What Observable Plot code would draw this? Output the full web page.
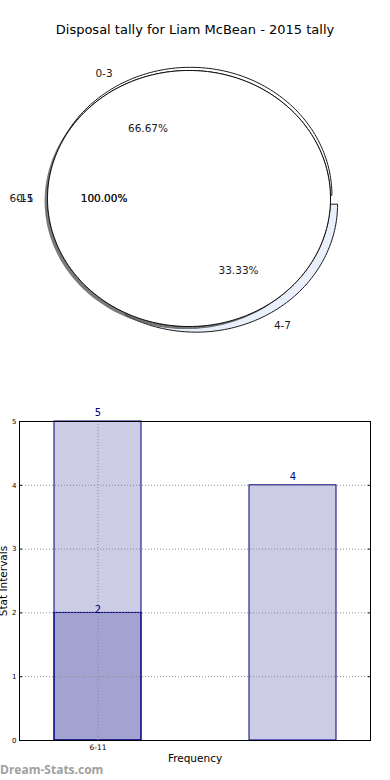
<!DOCTYPE html>
<html>
<head>
<meta charset="utf-8">
<script src="https://cdn.jsdelivr.net/npm/d3@7"></script>
<script src="https://cdn.jsdelivr.net/npm/@observablehq/plot@0.6"></script>
<style>
  html, body { margin: 0; padding: 0; background: #fff; }
  #wrap { position: relative; width: 390px; height: 780px; overflow: hidden; font-family: "DejaVu Sans", sans-serif; }
  #title { position: absolute; left: 0; width: 390px; top: 22px; text-align: center; font-size: 13px; line-height: 16px; color: #000; font-family: "DejaVu Sans", sans-serif; }
  #pie { position: absolute; left: 0; top: 0; }
  #bar { position: absolute; left: 0; top: 390px; }
  #wm { position: absolute; left: 0; top: 761px; font-size: 12px; font-weight: bold; color: #a0a0a0; font-family: "Open Sans", "DejaVu Sans", sans-serif; }
</style>
</head>
<body>
<div id="wrap">
  <div id="pie"></div>
  <div id="bar"></div>
  <div id="title">Disposal tally for Liam McBean - 2015 tally</div>
  <div id="wm">Dream-Stats.com</div>
</div>
<script>
// ---- Data ----
const chartTitle = "Disposal tally for Liam McBean - 2015 tally";

// two single-slice pies drawn on top of each other (each 100%, with shadow)
const pieFrontLabels = ["6-11", "0-5"];
const pieFrontValues = [5, 2];

// pie drawn underneath
const pieBackLabels = ["0-3", "4-7"];
const pieBackValues = [2, 1];
const pieBackExplode = [0, 0.08];

// bar chart
const barCategories = ["6-11", ""];
const barTickLabels = ["6-11"];
const barSeriesTotal = [5, 4];     // lighter bars
const barSeriesPart = [2, null];   // overlaid bar
const yTicks = [0, 1, 2, 3, 4, 5];

// ---- Pie geometry helpers ----
function wedges(labels, values, explode, cx, cy, r) {
  const total = d3.sum(values);
  let acc = 0;
  const out = [];
  labels.forEach((lab, i) => {
    const a0 = acc / total * 2 * Math.PI;
    acc += values[i];
    const a1 = acc / total * 2 * Math.PI;
    const mid = (a0 + a1) / 2;
    const e = explode ? explode[i] : 0;
    const ox = cx + e * Math.cos(mid), oy = cy + e * Math.sin(mid);
    const full = (a1 - a0) >= 2 * Math.PI - 1e-9;
    const n = Math.max(4, Math.ceil((a1 - a0) / (2 * Math.PI) * 240));
    const pts = [];
    if (!full) pts.push([ox, oy]);
    for (let k = 0; k <= n; k++) {
      const a = a0 + (a1 - a0) * k / n;
      pts.push([ox + r * Math.cos(a), oy + r * Math.sin(a)]);
    }
    if (!full) pts.push([ox, oy]);
    out.push({label: lab, pct: values[i] / total * 100, mid, ox, oy, r, pts});
  });
  return out;
}

const backCenter = [0.01, 0.025];
const backPie = wedges(pieBackLabels, pieBackValues, pieBackExplode, backCenter[0], backCenter[1], 1);
// each front label is its own single-slice pie
const frontPies = pieFrontLabels.map((lab, i) => wedges([lab], [pieFrontValues[i]], null, 0, 0, 1)[0]);
const backFills = ["#ffffff", "#e9effb"];

const polyRows = [];
backPie.forEach((w, i) => w.pts.forEach(p => polyRows.push({key: "b" + i, x: p[0], y: p[1], fill: backFills[i], op: 1})));
frontPies.forEach((w, i) => {
  w.pts.forEach(p => polyRows.push({key: "s" + i, x: p[0] - 0.02, y: p[1] - 0.02, fill: "#4d4d4d", op: 0.5}));
  w.pts.forEach(p => polyRows.push({key: "t" + i, x: p[0], y: p[1], fill: "#ffffff", op: 1}));
});
const polyKeys = ["b0", "b1", ...frontPies.flatMap((w, i) => ["s" + i, "t" + i])];

const labelRows = [];
const pctRows = [];
[...backPie, ...frontPies].forEach(w => {
  labelRows.push({text: w.label, x: w.ox + 1.1 * w.r * Math.cos(w.mid), y: w.oy + 1.1 * w.r * Math.sin(w.mid)});
  pctRows.push({text: w.pct.toFixed(2) + "%", x: w.ox + 0.6 * w.r * Math.cos(w.mid), y: w.oy + 0.6 * w.r * Math.sin(w.mid)});
});

const font = "DejaVu Sans";
const pieChart = Plot.plot({
  width: 390, height: 390,
  marginTop: 0, marginBottom: 0, marginLeft: 0, marginRight: 0,
  x: {domain: [-1, 1], range: [47, 330], axis: null},
  y: {domain: [-1, 1], range: [326, 70], axis: null},
  style: {fontFamily: font, background: "transparent"},
  marks: [
    ...polyKeys.map(k => {
      const rows = polyRows.filter(r => r.key === k);
      const isShadow = k[0] === "s";
      return Plot.line(rows, {x: "x", y: "y", fill: rows[0].fill, fillOpacity: rows[0].op,
        stroke: isShadow ? "none" : "#000", strokeWidth: isShadow ? 0 : 0.9, strokeLinejoin: "round"});
    }),
    Plot.text(labelRows.filter(d => d.x < 0), {x: "x", y: "y", text: "text", textAnchor: "end", fontSize: 10.5, fill: "#1a1a1a"}),
    Plot.text(labelRows.filter(d => d.x >= 0), {x: "x", y: "y", text: "text", textAnchor: "start", fontSize: 10.5, fill: "#1a1a1a"}),
    Plot.text(pctRows, {x: "x", y: "y", text: "text", textAnchor: "middle", fontSize: 10.5, fill: "#1a1a1a"})
  ]
});
document.getElementById("pie").appendChild(pieChart);

// ---- Bar chart ----
const totalRows = barCategories.map((c, i) => ({cat: c, v: barSeriesTotal[i]})).filter(d => d.v != null);
const partRows = barCategories.map((c, i) => ({cat: c, v: barSeriesPart[i]})).filter(d => d.v != null);
const navy = "#000080";

const barChart = Plot.plot({
  width: 390, height: 390,
  marginTop: 31, marginBottom: 40, marginLeft: 19, marginRight: 20,
  x: {type: "band", domain: barCategories, paddingInner: 0.554, paddingOuter: 0.177, align: 0.5},
  y: {domain: [0, 5]},
  style: {fontFamily: font, background: "transparent"},
  marks: [
    Plot.barY(totalRows, {x: "cat", y1: 0, y2: "v", fill: navy, fillOpacity: 0.2, stroke: navy, strokeWidth: 1}),
    Plot.barY(partRows, {x: "cat", y1: 0, y2: "v", fill: navy, fillOpacity: 0.2, stroke: navy, strokeWidth: 1}),
    Plot.gridY(yTicks, {stroke: "#8c8c8c", strokeOpacity: 1, strokeDasharray: "1,2", strokeWidth: 1}),
    Plot.gridX(barTickLabels, {stroke: "#8c8c8c", strokeOpacity: 1, strokeDasharray: "1,2", strokeWidth: 1}),
    Plot.frame({stroke: "#000", strokeWidth: 1}),
    Plot.axisY(yTicks, {anchor: "left", tickSize: -3, tickPadding: 6, fontSize: 7, tickFormat: d => String(d), label: null, stroke: "#000", color: "#000"}),
    Plot.axisY(yTicks, {anchor: "right", tickSize: -3, tickFormat: () => "", label: null}),
    Plot.axisX(barTickLabels, {anchor: "bottom", tickSize: 0, tickPadding: 4, fontSize: 7.5, label: null}),
    Plot.text(totalRows, {x: "cat", y: "v", text: d => String(d.v), dy: -9, fontSize: 10, fill: navy}),
    Plot.text(partRows, {x: "cat", y: "v", text: d => String(d.v), dy: -3, fontSize: 10, fill: navy}),
    Plot.text(["Frequency"], {frameAnchor: "bottom", dy: 21, fontSize: 10.5, fill: "#000"}),
    Plot.text(["Stat Intervals"], {frameAnchor: "left", textAnchor: "middle", dx: -16, rotate: -90, fontSize: 10.5, fill: "#000"})
  ]
});
document.getElementById("bar").appendChild(barChart);
</script>
</body>
</html>
